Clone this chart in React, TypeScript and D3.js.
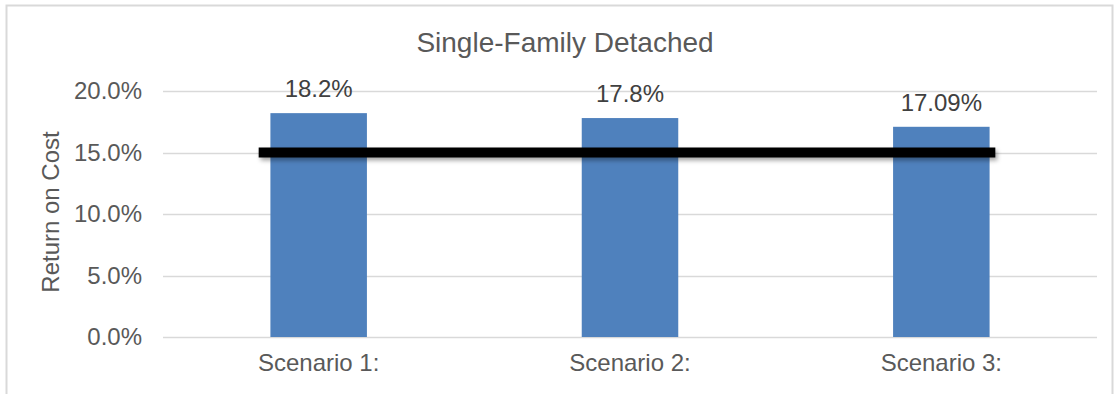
import { useEffect, useRef } from 'react';
import * as d3 from 'd3';

const categories = ['Scenario 1:', 'Scenario 2:', 'Scenario 3:'];
const returnOnCost = [18.2, 17.8, 17.09];
const valueLabels = ['18.2%', '17.8%', '17.09%'];
const yTicks = [0, 5, 10, 15, 20];
const target = 15;

const App = () => {
  const svgRef = useRef<SVGSVGElement>(null);

  useEffect(() => {
    const svg = d3.select(svgRef.current);
    const width = 1119;
    const height = 394;
    const font = '"Liberation Sans", Arial, sans-serif';
    const margin = { top: 91, right: 22, bottom: 57, left: 163 };

    svg.selectAll('*').remove();

    // chart frame
    svg.append('rect')
      .attr('x', 6.5)
      .attr('y', 5.5)
      .attr('width', 1106)
      .attr('height', 400)
      .attr('fill', '#fff')
      .attr('stroke', '#d9d9d9')
      .attr('stroke-width', 2);

    const defs = svg.append('defs');
    const shadow = defs.append('filter')
      .attr('id', 'shadow')
      .attr('x', '-5%').attr('y', '-100%')
      .attr('width', '110%').attr('height', '400%');
    shadow.append('feDropShadow')
      .attr('dx', 2).attr('dy', 3)
      .attr('stdDeviation', 2)
      .attr('flood-color', '#000')
      .attr('flood-opacity', 0.35);

    svg.append('text')
      .attr('x', 565)
      .attr('y', 52)
      .attr('text-anchor', 'middle')
      .style('font-family', font)
      .style('font-size', '28px')
      .style('fill', '#595959')
      .text('Single-Family Detached');

    const x = d3.scaleBand()
      .domain(categories)
      .range([margin.left, width - margin.right])
      .paddingInner(0.69)
      .paddingOuter(0.345);

    const y = d3.scaleLinear()
      .domain([0, 20])
      .range([height - margin.bottom, margin.top]);

    // gridlines
    svg.append('g')
      .selectAll('line')
      .data(yTicks)
      .join('line')
      .attr('x1', margin.left)
      .attr('x2', width - margin.right)
      .attr('y1', d => Math.round(y(d)) + 0.5)
      .attr('y2', d => Math.round(y(d)) + 0.5)
      .attr('stroke', '#d9d9d9')
      .attr('stroke-width', 1.3);

    const yAxis = svg.append('g')
      .attr('transform', `translate(${margin.left},0)`)
      .call(d3.axisLeft(y).tickValues(yTicks).tickSize(0).tickPadding(21).tickFormat(d => `${(+d).toFixed(1)}%`));
    yAxis.select('.domain').remove();
    yAxis.selectAll('text')
      .style('font-family', font)
      .style('font-size', '24px')
      .style('fill', '#595959');

    svg.append('text')
      .attr('transform', `translate(59,212) rotate(-90)`)
      .attr('text-anchor', 'middle')
      .style('font-family', font)
      .style('font-size', '24px')
      .style('fill', '#595959')
      .text('Return on Cost');

    svg.append('g')
      .selectAll('rect')
      .data(returnOnCost)
      .join('rect')
      .attr('x', (d, i) => x(categories[i]))
      .attr('y', d => y(d))
      .attr('width', x.bandwidth())
      .attr('height', d => y(0) - y(d))
      .attr('fill', '#4f81bd');

    svg.append('g')
      .selectAll('text')
      .data(returnOnCost)
      .join('text')
      .attr('x', (d, i) => x(categories[i]) + x.bandwidth() / 2)
      .attr('y', d => y(d) - 16)
      .attr('text-anchor', 'middle')
      .style('font-family', font)
      .style('font-size', '24px')
      .style('fill', '#404040')
      .text((d, i) => valueLabels[i]);

    const xAxis = svg.append('g')
      .attr('transform', `translate(0,${height - margin.bottom})`)
      .call(d3.axisBottom(x).tickSize(0).tickPadding(17));
    xAxis.select('.domain').remove();
    xAxis.selectAll('text')
      .style('font-family', font)
      .style('font-size', '24px')
      .style('fill', '#595959');

    // target line
    const first = x(categories[0]) + x.bandwidth() / 2;
    const last = x(categories[categories.length - 1]) + x.bandwidth() / 2;
    svg.append('rect')
      .attr('x', first - 60)
      .attr('width', last + 54 - (first - 60))
      .attr('y', y(target) - 5)
      .attr('height', 10)
      .attr('fill', '#000')
      .attr('filter', 'url(#shadow)');
  }, []);

  return (
    <svg ref={svgRef} width="1119" height="394" style={{ position: 'absolute', left: 0, top: 0, background: '#fff' }}></svg>
  );
};

export default App;
